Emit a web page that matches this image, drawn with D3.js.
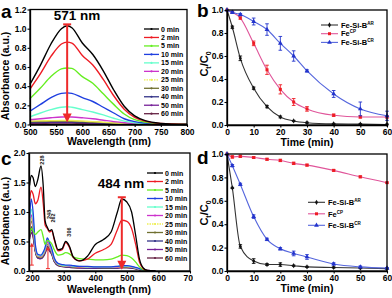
<!DOCTYPE html>
<html>
<head>
<meta charset="utf-8">
<script src="https://cdn.jsdelivr.net/npm/d3@7"></script>
<style>
  body { margin: 0; background: #fff; }
  svg { display: block; font-family: "Liberation Sans", Arial, sans-serif; }
  .axis text { font-size: 8.5px; font-weight: bold; fill: #000; }
  .axis .domain { stroke: #000; stroke-width: 1.3; }
  .axis line { stroke: #000; stroke-width: 1.1; }
</style>
</head>
<body>
<div id="chart"></div>
<script>
// ---------- panel a : UV-vis spectra 500-800 nm ----------
const aWave = [500, 520, 540, 560, 571, 580, 600, 620, 640, 660, 680, 700, 720, 750, 800];
const aLabels = ["0 min", "2 min", "5 min", "10 min", "15 min", "20 min", "25 min", "30 min", "40 min", "50 min", "60 min"];
const a0 = [0.42, 0.62, 0.84, 1.00, 1.03, 1.01, 0.85, 0.73, 0.56, 0.36, 0.19, 0.09, 0.04, 0.012, 0.0];
const a2 = [0.37, 0.53, 0.71, 0.84, 0.86, 0.85, 0.72, 0.62, 0.47, 0.30, 0.16, 0.075, 0.035, 0.01, 0.0];
const a5 = [0.27, 0.38, 0.50, 0.58, 0.59, 0.585, 0.50, 0.43, 0.32, 0.21, 0.11, 0.05, 0.025, 0.008, 0.0];
const a10 = [0.14, 0.21, 0.28, 0.325, 0.33, 0.325, 0.28, 0.24, 0.18, 0.12, 0.06, 0.03, 0.015, 0.005, 0.0];
const a15 = [0.08, 0.12, 0.155, 0.18, 0.185, 0.18, 0.155, 0.13, 0.10, 0.065, 0.035, 0.018, 0.008, 0.003, 0.0];
const a20 = [0.05, 0.06, 0.07, 0.078, 0.08, 0.078, 0.07, 0.06, 0.045, 0.03, 0.018, 0.009, 0.004, 0.002, 0.0];
const a25 = [0.035, 0.038, 0.04, 0.042, 0.042, 0.041, 0.036, 0.03, 0.024, 0.016, 0.01, 0.005, 0.003, 0.001, 0.0];
const a30 = [0.03, 0.032, 0.034, 0.035, 0.035, 0.034, 0.03, 0.026, 0.02, 0.014, 0.008, 0.004, 0.002, 0.001, 0.0];
const a40 = [0.024, 0.026, 0.027, 0.028, 0.028, 0.027, 0.024, 0.02, 0.016, 0.011, 0.006, 0.003, 0.002, 0.001, 0.0];
const a50 = [0.018, 0.019, 0.02, 0.021, 0.021, 0.02, 0.018, 0.015, 0.012, 0.008, 0.005, 0.003, 0.001, 0.0, 0.0];
const a60 = [0.012, 0.013, 0.014, 0.015, 0.015, 0.014, 0.013, 0.011, 0.009, 0.006, 0.004, 0.002, 0.001, 0.0, 0.0];
const aCurves = [a0, a2, a5, a10, a15, a20, a25, a30, a40, a50, a60];
const aPeak = 571;

// ---------- panel c : UV-vis spectra 190-700 nm ----------
const cWave = [192, 197, 203, 210, 218, 228, 235, 241, 248, 255, 262, 270, 282, 295, 306, 318, 330, 350, 375, 400, 425, 450, 470, 484, 500, 515, 528, 540, 552, 565, 590];
const c0 = [1.45, 1.62, 1.58, 1.43, 1.55, 1.78, 1.45, 0.85, 0.74, 0.68, 0.70, 0.55, 0.36, 0.38, 0.50, 0.42, 0.24, 0.17, 0.25, 0.45, 0.53, 0.66, 1.0, 1.22, 1.17, 1.0, 0.6, 0.2, 0.05, 0.01, 0];
const c2 = [1.2, 1.36, 1.30, 1.14, 1.20, 1.42, 1.15, 0.78, 0.72, 0.66, 0.68, 0.53, 0.34, 0.36, 0.48, 0.40, 0.23, 0.17, 0.20, 0.30, 0.36, 0.45, 0.70, 0.86, 0.84, 0.72, 0.45, 0.15, 0.04, 0.01, 0];
const c5 = [0.62, 0.72, 0.68, 0.62, 0.66, 0.70, 0.58, 0.45, 0.52, 0.50, 0.46, 0.36, 0.27, 0.28, 0.31, 0.29, 0.24, 0.21, 0.20, 0.19, 0.19, 0.20, 0.24, 0.27, 0.26, 0.22, 0.15, 0.07, 0.02, 0.005, 0];
const c10 = [0.9, 1.22, 1.0, 0.45, 0.28, 0.27, 0.32, 0.40, 0.56, 0.48, 0.38, 0.22, 0.13, 0.11, 0.10, 0.10, 0.09, 0.08, 0.08, 0.07, 0.07, 0.07, 0.08, 0.09, 0.09, 0.08, 0.06, 0.04, 0.02, 0.01, 0];
const c15 = [0.82, 1.05, 0.88, 0.42, 0.27, 0.26, 0.30, 0.38, 0.55, 0.46, 0.36, 0.21, 0.12, 0.10, 0.09, 0.09, 0.08, 0.08, 0.07, 0.07, 0.07, 0.07, 0.08, 0.085, 0.085, 0.075, 0.055, 0.035, 0.015, 0.005, 0];
const c20 = [0.76, 0.95, 0.80, 0.40, 0.26, 0.25, 0.29, 0.36, 0.50, 0.43, 0.34, 0.20, 0.12, 0.10, 0.09, 0.08, 0.08, 0.07, 0.07, 0.065, 0.065, 0.065, 0.07, 0.08, 0.08, 0.07, 0.05, 0.03, 0.015, 0.005, 0];
const c25 = [0.72, 0.90, 0.76, 0.38, 0.25, 0.24, 0.28, 0.35, 0.48, 0.41, 0.33, 0.19, 0.11, 0.09, 0.085, 0.08, 0.075, 0.07, 0.065, 0.06, 0.06, 0.06, 0.065, 0.075, 0.075, 0.065, 0.05, 0.03, 0.012, 0.004, 0];
const c30 = [0.68, 0.85, 0.72, 0.37, 0.24, 0.23, 0.27, 0.34, 0.46, 0.40, 0.32, 0.18, 0.11, 0.09, 0.08, 0.075, 0.07, 0.065, 0.06, 0.06, 0.055, 0.055, 0.06, 0.07, 0.07, 0.06, 0.045, 0.028, 0.012, 0.004, 0];
const c40 = [0.62, 0.75, 0.65, 0.35, 0.23, 0.22, 0.26, 0.32, 0.42, 0.37, 0.30, 0.17, 0.10, 0.085, 0.075, 0.07, 0.065, 0.06, 0.055, 0.055, 0.05, 0.05, 0.055, 0.065, 0.065, 0.055, 0.04, 0.025, 0.01, 0.003, 0];
const c50 = [0.58, 0.70, 0.61, 0.34, 0.22, 0.21, 0.25, 0.31, 0.40, 0.35, 0.29, 0.16, 0.10, 0.08, 0.07, 0.065, 0.06, 0.055, 0.05, 0.05, 0.05, 0.05, 0.05, 0.06, 0.06, 0.05, 0.04, 0.022, 0.01, 0.003, 0];
const c60 = [0.54, 0.65, 0.57, 0.33, 0.22, 0.21, 0.24, 0.30, 0.38, 0.34, 0.28, 0.16, 0.09, 0.075, 0.065, 0.06, 0.055, 0.05, 0.05, 0.045, 0.045, 0.045, 0.05, 0.055, 0.055, 0.05, 0.035, 0.02, 0.008, 0.002, 0];
const cCurves = [c0, c2, c5, c10, c15, c20, c25, c30, c40, c50, c60];
const cPeak = 484;
const cPeakLabels = [["228", 230, 1.88], ["248", 253, 0.96], ["262", 266, 0.90], ["306", 316, 0.66]];

const specColors = ["#000000", "#ee1c24", "#66ee22", "#1f3fe0", "#66ffcc", "#cc33cc", "#eeee55", "#707030", "#333388", "#772299", "#662244"];

// ---------- panels b, d : Ct/C0 vs time ----------
const tTime = [0, 2, 5, 10, 15, 20, 25, 30, 40, 50, 60];
const seriesNames = [["Fe-Si-B", "AR"], ["Fe", "CP"], ["Fe-Si-B", "CR"]];
// panel b
const bAR = [1.0, 0.85, 0.58, 0.32, 0.16, 0.07, 0.035, 0.02, 0.01, 0.008, 0.005];
const bARerr = [0, 0.01, 0.02, 0.01, 0.01, 0.008, 0.005, 0.005, 0.004, 0.004, 0.004];
const bCP = [1.0, 0.98, 0.93, 0.71, 0.48, 0.31, 0.20, 0.14, 0.085, 0.07, 0.07];
const bCPerr = [0, 0.005, 0.01, 0.02, 0.04, 0.04, 0.03, 0.02, 0.01, 0.01, 0.01];
const bCR = [1.0, 0.98, 0.96, 0.90, 0.83, 0.71, 0.60, 0.47, 0.27, 0.14, 0.08];
const bCRerr = [0, 0.01, 0.01, 0.03, 0.05, 0.06, 0.045, 0.01, 0.03, 0.06, 0.04];
// panel d
const dAR = [1.0, 0.71, 0.21, 0.085, 0.055, 0.055, 0.045, 0.035, 0.03, 0.025, 0.02];
const dARerr = [0, 0.005, 0.015, 0.02, 0.008, 0.015, 0.005, 0.005, 0.005, 0.005, 0.005];
const dCP = [1.0, 0.975, 0.98, 0.97, 0.955, 0.945, 0.92, 0.905, 0.86, 0.805, 0.755];
const dCPerr = [0, 0.01, 0.01, 0.008, 0.008, 0.01, 0.01, 0.008, 0.008, 0.008, 0.005];
const dCR = [1.0, 0.90, 0.74, 0.465, 0.27, 0.19, 0.15, 0.12, 0.06, 0.035, 0.025];
const dCRerr = [0, 0.01, 0.01, 0.015, 0.01, 0.01, 0.02, 0.02, 0.01, 0.008, 0.005];

const lineColors = ["#333333", "#e0559a", "#5566dd"];
const markColors = ["#111111", "#ee1c24", "#2233cc"];

const W = 392, H = 298;
const svg = d3.select("#chart").append("svg").attr("width", W).attr("height", H);

svg.append("defs").append("clipPath").attr("id", "clipC")
  .append("rect").attr("x", 0).attr("y", 148).attr("width", 193).attr("height", 150);

function drawAxes(g, x, y, xTicks, yTicks, xFmt, yFmt) {
  g.append("g").attr("class", "axis")
    .attr("transform", `translate(0,${y.range()[0]})`)
    .call(d3.axisBottom(x).tickValues(xTicks).tickSize(2.5).tickSizeOuter(0).tickPadding(1.5).tickFormat(xFmt));
  g.append("g").attr("class", "axis")
    .attr("transform", `translate(${x.range()[0]},0)`)
    .call(d3.axisLeft(y).tickValues(yTicks).tickSize(2.5).tickSizeOuter(0).tickPadding(1).tickFormat(yFmt));
  g.append("rect")
    .attr("x", x.range()[0]).attr("y", y.range()[1])
    .attr("width", x.range()[1] - x.range()[0]).attr("height", y.range()[0] - y.range()[1])
    .attr("fill", "none").attr("stroke", "#000").attr("stroke-width", 1.3);
}

function panelLabel(t, x, y) {
  svg.append("text").attr("x", x).attr("y", y).attr("font-size", "19px").attr("font-weight", "bold").text(t);
}

function xTitle(g, t, x, y) {
  g.append("text").attr("x", x).attr("y", y).attr("text-anchor", "middle")
    .attr("font-size", "10.5px").attr("font-weight", "bold").text(t);
}

function yTitleAbs(g, x, y) {
  g.append("text").attr("transform", `translate(${x},${y}) rotate(-90)`).attr("text-anchor", "middle")
    .attr("font-size", "10.5px").attr("font-weight", "bold").text("Absorbance (a.u.)");
}

function yTitleC(x, y) {
  const t = svg.append("text").attr("transform", `translate(${x},${y}) rotate(-90)`).attr("text-anchor", "middle")
    .attr("font-size", "11px").attr("font-weight", "bold");
  t.append("tspan").text("C");
  t.append("tspan").attr("dy", 3).attr("font-size", "7px").text("t");
  t.append("tspan").attr("dy", -3).text("/C");
  t.append("tspan").attr("dy", 3).attr("font-size", "7px").text("0");
}

function specLegend(g, x1, x2, y0, dy) {
  aLabels.forEach((lab, i) => {
    const yy = y0 + i * dy;
    g.append("line").attr("x1", x1).attr("x2", x2).attr("y1", yy).attr("y2", yy)
      .attr("stroke", specColors[i]).attr("stroke-width", 1.3)
      .attr("stroke-dasharray", i === 6 ? "1.5,1" : null);
    g.append("circle").attr("cx", (x1 + x2) / 2).attr("cy", yy).attr("r", 1.1).attr("fill", specColors[i]);
    g.append("text").attr("x", x2 + 2).attr("y", yy + 2.5).attr("font-size", "7px").attr("font-weight", "bold").text(lab);
  });
}

function bigArrow(g, x, yTop, yTip, headLen, w) {
  g.append("line").attr("x1", x - 4).attr("x2", x + 4).attr("y1", yTop).attr("y2", yTop)
    .attr("stroke", "#ee2a2a").attr("stroke-width", 2);
  g.append("line").attr("x1", x).attr("x2", x).attr("y1", yTop).attr("y2", yTip - headLen + 1)
    .attr("stroke", "#ee2a2a").attr("stroke-width", 2);
  g.append("path").attr("d", `M${x - w},${yTip - headLen} L${x + w},${yTip - headLen} L${x},${yTip} Z`).attr("fill", "#ee2a2a");
}

function upArrow(g, x, yBot, yTip) {
  g.append("line").attr("x1", x - 2).attr("x2", x + 2).attr("y1", yBot).attr("y2", yBot)
    .attr("stroke", "#ee2a2a").attr("stroke-width", 1);
  g.append("line").attr("x1", x).attr("x2", x).attr("y1", yBot).attr("y2", yTip + 3)
    .attr("stroke", "#ee2a2a").attr("stroke-width", 1);
  g.append("path").attr("d", `M${x - 2},${yTip + 4} L${x + 2},${yTip + 4} L${x},${yTip} Z`).attr("fill", "#ee2a2a");
}

// ===== panel a =====
{
  const g = svg.append("g");
  const x = d3.scaleLinear().domain([500, 800]).range([30, 187]);
  const y = d3.scaleLinear().domain([0, 1.2]).range([124.5, 9.5]);
  const line = d3.line().x(d => x(d[0])).y(d => y(d[1])).curve(d3.curveMonotoneX);
  aCurves.slice().reverse().forEach((c, j) => {
    const i = aCurves.length - 1 - j;
    g.append("path").datum(aWave.map((w, k) => [w, c[k]])).attr("d", line)
      .attr("fill", "none").attr("stroke", specColors[i]).attr("stroke-width", 1.4);
  });
  bigArrow(g, x(aPeak), y(1.045), y(0.02), 9, 4.5);
  drawAxes(g, x, y, d3.range(500, 801, 50), d3.range(0, 1.21, 0.2), d3.format("d"), d3.format(".1f"));
  g.append("text").attr("x", 77).attr("y", 20).attr("text-anchor", "middle")
    .attr("font-size", "13.5px").attr("font-weight", "bold").text(aPeak + " nm");
  specLegend(g, 144, 159, 29, 8.47);
  xTitle(g, "Wavelength (nm)", 109, 145);
  yTitleAbs(g, 9, 76);
  panelLabel("a", 1, 18);
}

// ===== panel c =====
{
  const g = svg.append("g").attr("clip-path", "url(#clipC)");
  const x = d3.scaleLinear().domain([190, 700]).range([29, 190]);
  const y = d3.scaleLinear().domain([0, 2]).range([271, 153]);
  const line = d3.line().x(d => x(d[0])).y(d => y(d[1])).curve(d3.curveMonotoneX);
  cCurves.slice().reverse().forEach((c, j) => {
    const i = cCurves.length - 1 - j;
    g.append("path").datum(cWave.map((w, k) => [w, c[k]])).attr("d", line)
      .attr("fill", "none").attr("stroke", specColors[i]).attr("stroke-width", 1.3);
  });
  bigArrow(g, x(cPeak), y(1.25), y(0.02), 9, 4.5);
  upArrow(g, x(199), y(0.1), y(0.48));
  upArrow(g, x(250), y(0.04), y(0.42));
  cPeakLabels.forEach(p => {
    g.append("text").attr("transform", `translate(${x(p[1]) + 2},${y(p[2])}) rotate(-90)`)
      .attr("text-anchor", "middle").attr("font-size", "5.5px").attr("font-weight", "bold").attr("fill", "#222").text(p[0]);
  });
  drawAxes(g, x, y, d3.range(200, 701, 100), d3.range(0, 2.01, 0.5), d3.format("d"), d3.format(".1f"));
  g.append("text").attr("x", 121).attr("y", 188).attr("text-anchor", "middle")
    .attr("font-size", "13.5px").attr("font-weight", "bold").text(cPeak + " nm");
  specLegend(g, 147, 163, 173, 8.5);
  xTitle(g, "Wavelength (nm)", 109, 293);
  yTitleAbs(g, 9, 221);
  panelLabel("c", 1, 165);
}

// ===== panels b and d =====
function kinetics(series, errs, yr, leg) {
  const g = svg.append("g");
  const x = d3.scaleLinear().domain([0, 60]).range([227, 387]);
  const y = d3.scaleLinear().domain([0, 1]).range(yr);
  const line = d3.line().x(d => x(d[0])).y(d => y(d[1])).curve(d3.curveMonotoneX);
  const shapes = [d3.symbolDiamond, d3.symbolSquare, d3.symbolTriangle];
  series.forEach((s, i) => {
    const pts = tTime.map((t, k) => [t, s[k], errs[i][k]]);
    g.append("path").datum(pts).attr("d", line).attr("fill", "none")
      .attr("stroke", lineColors[i]).attr("stroke-width", 1.1);
    pts.forEach(p => {
      if (p[2] > 0) {
        g.append("path").attr("d", `M${x(p[0])},${y(p[1] - p[2])}V${y(p[1] + p[2])}M${x(p[0]) - 1.8},${y(p[1] - p[2])}h3.6M${x(p[0]) - 1.8},${y(p[1] + p[2])}h3.6`)
          .attr("stroke", markColors[i]).attr("stroke-width", 0.9).attr("fill", "none");
      }
    });
    g.selectAll(null).data(pts).enter().append("path")
      .attr("transform", p => `translate(${x(p[0])},${y(p[1])})`)
      .attr("d", d3.symbol().type(shapes[i]).size([8, 9, 10][i]))
      .attr("fill", markColors[i]);
  });
  drawAxes(g, x, y, d3.range(0, 61, 10), d3.range(0, 1.01, 0.2), d3.format("d"), d3.format(".1f"));
  seriesNames.forEach((nm, i) => {
    const yy = leg.y0 + i * leg.dy;
    g.append("line").attr("x1", leg.x1).attr("x2", leg.x2).attr("y1", yy).attr("y2", yy)
      .attr("stroke", lineColors[i]).attr("stroke-width", 1.1);
    g.append("path").attr("transform", `translate(${(leg.x1 + leg.x2) / 2},${yy})`)
      .attr("d", d3.symbol().type(shapes[i]).size([8, 9, 10][i]))
      .attr("fill", markColors[i]);
    const t = g.append("text").attr("x", leg.x2 + 3).attr("y", yy + 2.7).attr("font-size", "7.5px").attr("font-weight", "bold");
    t.append("tspan").text(nm[0]);
    t.append("tspan").attr("dy", -3).attr("font-size", "4.5px").text(nm[1]);
  });
  xTitle(g, "Time (min)", 307, yr[0] + 21);
  return g;
}

kinetics([bAR, bCP, bCR], [bARerr, bCPerr, bCRerr], [125, 10], { x1: 321, x2: 338, y0: 25, dy: 8.7 });
yTitleC(208, 64);
panelLabel("b", 197, 17);

kinetics([dAR, dCP, dCR], [dARerr, dCPerr, dCRerr], [271, 154], { x1: 308, x2: 325, y0: 202.3, dy: 11.5 });
yTitleC(208, 213);
panelLabel("d", 197, 164);
</script>
</body>
</html>
